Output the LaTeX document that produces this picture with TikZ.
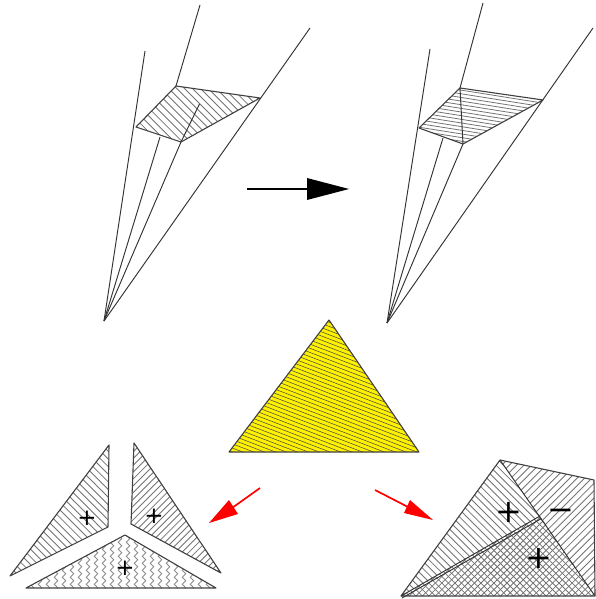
\documentclass[tikz,border=0pt]{standalone}
\usepackage{fontspec}
\newfontfamily\signfont{DejaVu Sans}
\usetikzlibrary{decorations.pathmorphing}
\definecolor{hatchgrey}{gray}{0.45}
\tikzset{
  edge/.style={draw=black!80,line width=0.95pt,line join=round},
  outline/.style={draw=black!75,line width=1.1pt,line join=round},
  hatchline/.style={draw=hatchgrey,line width=0.85pt},
  wave/.style={draw=black!45,line width=0.85pt,decorate,decoration={zigzag,segment length=7pt,amplitude=1.8pt}},
  sign/.style={inner sep=0pt,outer sep=0pt,text=black},
  smallsign/.style={sign,font=\signfont\fontsize{23}{24}\selectfont},
  bigsign/.style={sign,font=\signfont\fontsize{32}{34}\selectfont},
  redarrow/.style={draw=red,line width=1.7pt},
  redhead/.style={fill=red,draw=none},
}
\newcommand{\hatchlines}[4][hatchline]{%
  \begin{scope}[shift={(#2)},rotate=#3]
    \pgfmathtruncatemacro{\hatchcount}{300/#4}
    \foreach \i in {-\hatchcount,...,\hatchcount} {\draw[#1] (-400,{\i*#4}) -- (400,{\i*#4});}
  \end{scope}}
\newcommand{\wavelines}[3]{%
  \foreach \d in {#2,...,#3} {\draw[wave] ({\d*8},#1) -- ({\d*8},600);}}
\begin{document}
\begin{tikzpicture}[x=1pt,y=-1pt]
\useasboundingbox (0,0) rectangle (595,599);
% --- left funnel
\coordinate (LA) at (104,321);
\coordinate (L1) at (136,127); \coordinate (L1e) at (145,51);
\coordinate (L2) at (176,86);  \coordinate (L2e) at (200,5);
\coordinate (L3) at (181,142); \coordinate (L3e) at (199.5,104);
\coordinate (L4) at (260,98);  \coordinate (L4e) at (310,28);
\coordinate (L5) at (160,137);
\begin{scope}
  \clip (L1)--(L2)--(L4)--(L3)--cycle;
  \hatchlines{218,114}{-45}{5.6}
\end{scope}
\draw[outline] (L1)--(L2)--(L4)--(L3)--cycle;
\draw[edge] (LA)--(L1e);
\draw[edge] (L2)--(L2e);
\draw[edge] (LA)--(L5);
\draw[edge] (LA)--(L3)--(L3e);
\draw[edge] (LA)--(L4e);
% --- right funnel
\coordinate (RA) at (387,323);
\coordinate (R1) at (419,128); \coordinate (R1e) at (430,49);
\coordinate (R2) at (460,88);  \coordinate (R2e) at (483,3);
\coordinate (R3) at (463,144);
\coordinate (R4) at (543,100); \coordinate (R4e) at (593,28);
\coordinate (R5) at (443,138);
\begin{scope}
  \clip (R1)--(R2)--(R4)--(R3)--cycle;
  \hatchlines[draw=hatchgrey,line width=0.8pt]{480,115}{-9}{3.6}
\end{scope}
\draw[outline] (R1)--(R2)--(R4)--(R3)--cycle;
\draw[edge] (R2)--(R3);
\draw[edge] (RA)--(R1e);
\draw[edge] (R2)--(R2e);
\draw[edge] (RA)--(R5);
\draw[edge] (RA)--(R3);
\draw[edge] (RA)--(R4e);
% --- black arrow
\coordinate (AS) at (247,189);
\coordinate (AB) at (307,189);
\coordinate (AT) at (349,189);
\draw[line width=1.6pt] (AS)--(AB);
\fill (307,178)--(AT)--(307,200)--cycle;
% --- yellow triangle
\coordinate (Y1) at (329,320); \coordinate (Y2) at (229,452); \coordinate (Y3) at (419,452);
\fill[yellow] (Y1)--(Y2)--(Y3)--cycle;
\begin{scope}
  \clip (Y1)--(Y2)--(Y3)--cycle;
  \hatchlines[draw=black!70,line width=0.55pt]{325,400}{-21}{3.9}
\end{scope}
\draw[outline] (Y1)--(Y2)--(Y3)--cycle;
% --- red arrows
\coordinate (RLs) at (260,488); \coordinate (RLm) at (232,508); \coordinate (RLt) at (209,523);
\coordinate (RRs) at (375,490); \coordinate (RRm) at (408,507); \coordinate (RRt) at (433,520);
\draw[redarrow] (RLs)--(RLm);
\fill[redhead] (RLt)--(229,500)--(238,514)--cycle;
\draw[redarrow] (RRs)--(RRm);
\fill[redhead] (RRt)--(410,500)--(404,513)--cycle;
% --- three pieces, lower left
\coordinate (A1) at (109,445); \coordinate (A2) at (108,527); \coordinate (A3) at (10,576);
\coordinate (B1) at (134,443); \coordinate (B2) at (131,524); \coordinate (B3) at (221,573);
\coordinate (C1) at (125,535); \coordinate (C2) at (216,588); \coordinate (C3) at (26,588);
\begin{scope}
  \clip (A1)--(A2)--(A3)--cycle;
  \hatchlines{70,520}{-45}{5.4}
\end{scope}
\draw[outline] (A1)--(A2)--(A3)--cycle;
\begin{scope}
  \clip (B1)--(B2)--(B3)--cycle;
  \hatchlines{160,520}{45}{4.8}
\end{scope}
\draw[outline] (B1)--(B2)--(B3)--cycle;
\begin{scope}
  \clip (C1)--(C2)--(C3)--cycle;
  \wavelines{530}{3}{28}
\end{scope}
\draw[outline] (C1)--(C2)--(C3)--cycle;
\node[smallsign] (pa) at (87,518) {+};
\node[smallsign] (pb) at (154,516) {+};
\node[smallsign] (pc) at (125,568) {+};
% --- folded triangle, lower right
\coordinate (T) at (500,460); \coordinate (TR) at (594,480);
\coordinate (BR) at (595,596); \coordinate (BL) at (401,596);
\coordinate (M) at (540,516);
\begin{scope}
  \clip (T)--(TR)--(BR)--cycle;
  \hatchlines{550,520}{45}{5.2}
\end{scope}
\begin{scope}
  \clip (T)--(M)--(BL)--cycle;
  \hatchlines{480,530}{-45}{5.2}
\end{scope}
\begin{scope}
  \clip (BL)--(M)--(BR)--cycle;
  \hatchlines[draw=hatchgrey,line width=0.75pt]{520,570}{45}{4.6}
  \hatchlines[draw=hatchgrey,line width=0.75pt]{520,570}{-45}{4.6}
\end{scope}
\draw[outline] (T)--(TR)--(BR)--(BL)--cycle;
\draw[edge] (T)--(BR);
\draw[edge] (BL)--(M);
\coordinate (Ds) at (402,598); \coordinate (De) at (541.5,518.5);
\draw[edge] (Ds)--(De);
\node[bigsign] (pd) at (509,512) {+};
\node[bigsign] (md) at (561,510) {\vphantom{+}−};
\node[bigsign] (pe) at (539,558) {+};
\end{tikzpicture}
\end{document}
